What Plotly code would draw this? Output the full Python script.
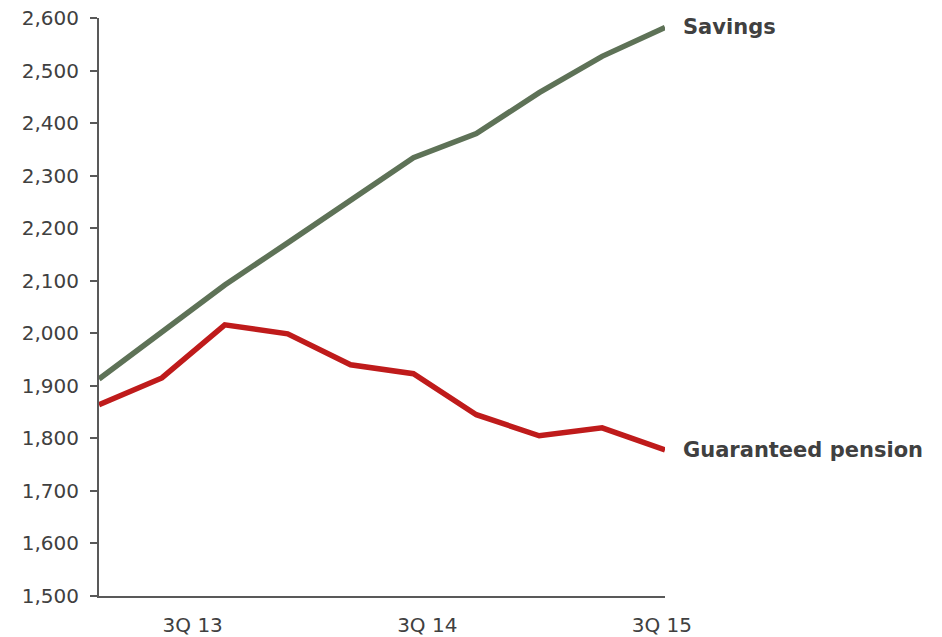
import plotly.graph_objects as go

# Quarterly series, 10 quarters ending 3Q 15
quarters = list(range(10))
savings = [1913, 2003, 2092, 2172, 2254, 2334, 2380, 2458, 2527, 2582]
guaranteed = [1864, 1915, 2016, 1999, 1940, 1923, 1845, 1805, 1820, 1778]

x_tick_pos = [1.49, 5.22, 8.95]
x_tick_text = ["3Q 13", "3Q 14", "3Q 15"]
y_ticks = list(range(1500, 2601, 100))

GREEN = "#5e7257"
RED = "#bf1b1b"
TEXT = "#404040"
AXIS = "#595959"
FONT = "DejaVu Sans"

fig = go.Figure()
fig.add_trace(go.Scatter(x=quarters, y=savings, mode="lines",
                         line=dict(color=GREEN, width=5.5), name="Savings",
                         cliponaxis=False))
fig.add_trace(go.Scatter(x=quarters, y=guaranteed, mode="lines",
                         line=dict(color=RED, width=5.5), name="Guaranteed pension",
                         cliponaxis=False))

# End-of-line labels
for name, series in (("Savings", savings), ("Guaranteed pension", guaranteed)):
    fig.add_annotation(x=quarters[-1], y=series[-1], text=f"<b>{name}</b>",
                       showarrow=False, xanchor="left", xshift=16,
                       font=dict(family=FONT, size=21, color=TEXT))

fig.update_layout(
    width=942, height=637,
    margin=dict(l=99, r=277, t=18, b=41),
    paper_bgcolor="white", plot_bgcolor="white",
    showlegend=False,
    font=dict(family=FONT, size=20, color=TEXT),
    xaxis=dict(range=[0, 9], tickvals=x_tick_pos, ticktext=x_tick_text,
               showgrid=False, zeroline=False, showline=True, automargin=False,
               linecolor=AXIS, linewidth=2, ticks="", ticklabelstandoff=10),
    yaxis=dict(range=[1500, 2600], tickvals=y_ticks, tickformat=",",
               showgrid=False, zeroline=False, showline=True, automargin=False,
               linecolor=AXIS, linewidth=2, ticks="outside", ticklen=7,
               tickwidth=2, tickcolor=AXIS, ticklabelstandoff=7),
)

fig.write_html("out.html")
